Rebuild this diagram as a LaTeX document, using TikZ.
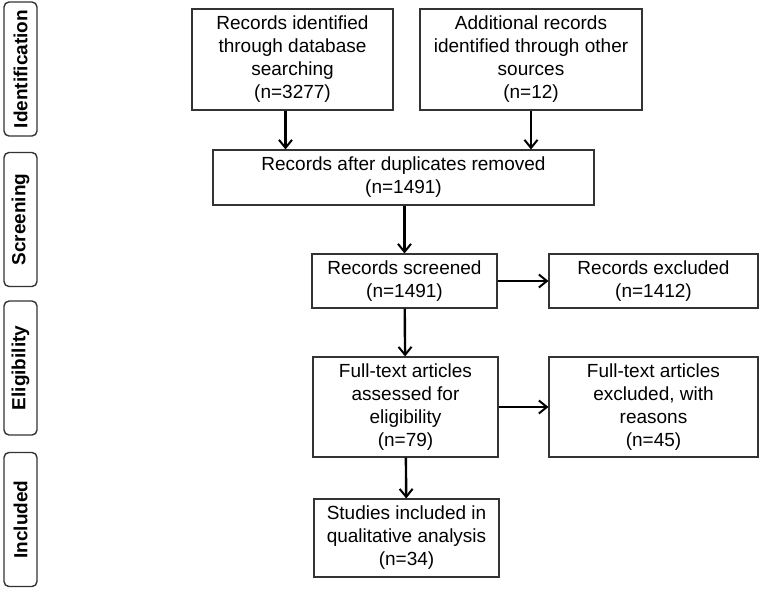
\documentclass[tikz,border=0pt]{standalone}
\usepackage{fontspec}
\setmainfont{Liberation Sans}
\usetikzlibrary{arrows.meta}
\tikzset{
  box/.style={draw=black!80, line width=1.1pt, align=center, inner sep=0pt,
    font=\fontsize{19}{23}\selectfont},
  phase/.style={draw=black!80, line width=1.4pt, rounded corners=5pt, rotate=90,
    inner sep=0pt, minimum width=134pt, minimum height=33pt,
    font=\fontsize{19}{23}\selectfont\bfseries},
  flow/.style={-{Straight Barb[length=8pt,width=13pt,line width=2pt]}, line width=2.4pt},
}
\begin{document}
\begin{tikzpicture}[x=1pt,y=-1pt]
    \useasboundingbox (0,0) rectangle (759,592);
    % phases
    \node[phase] (L0) at (20.5, 69) {Identification};
    \node[phase] (L1) at (20.5, 219.5) {Screening};
    \node[phase] (L2) at (20.5, 368) {Eligibility};
    \node[phase] (L3) at (20.5, 519.5) {Included};
    % boxes
    \node[box, minimum width=201pt, minimum height=101pt] (A0_0) at (292.5, 59.5)
      {Records identified\\through database\\searching\\(n=3277)};
    \node[box, minimum width=222pt, minimum height=101pt] (A0_1) at (531, 59.5)
      {Additional records\\identified through other\\sources\\(n=12)};
    \node[box, minimum width=381pt, minimum height=55pt] (A1_0) at (403.5, 177.5)
      {Records after duplicates removed\\(n=1491)};
    \node[box, minimum width=185pt, minimum height=54pt] (A2_0) at (404.5, 281)
      {Records screened\\(n=1491)};
    \node[box, minimum width=209pt, minimum height=54pt] (A2_1) at (653.5, 281)
      {Records excluded\\(n=1412)};
    \node[box, minimum width=185pt, minimum height=100pt] (A3_0) at (405.5, 407)
      {Full-text articles\\assessed for\\eligibility\\(n=79)};
    \node[box, minimum width=209pt, minimum height=100pt] (A3_1) at (653.5, 407)
      {Full-text articles\\excluded, with\\reasons\\(n=45)};
    \node[box, minimum width=185pt, minimum height=78pt] (A4_0) at (406.5, 538)
      {Studies included in\\qualitative analysis\\(n=34)};
    % arrows
    \draw[flow] ([xshift=-7pt]A0_0.south) -- ([xshift=-7pt]A0_0.south |- A1_0.north);
    \draw[flow] (A0_1.south) -- (A0_1.south |- A1_0.north);
    \draw[flow] (A1_0.south -| A2_0) -- (A2_0.north);
    \draw[flow] (A2_0) -- (A2_1);
    \path (A2_0) edge [flow] (A3_0);
    \path (A3_0) edge [flow] (A3_1);
    \path (A3_0) edge [flow] (A4_0);
  \end{tikzpicture}
\end{document}
